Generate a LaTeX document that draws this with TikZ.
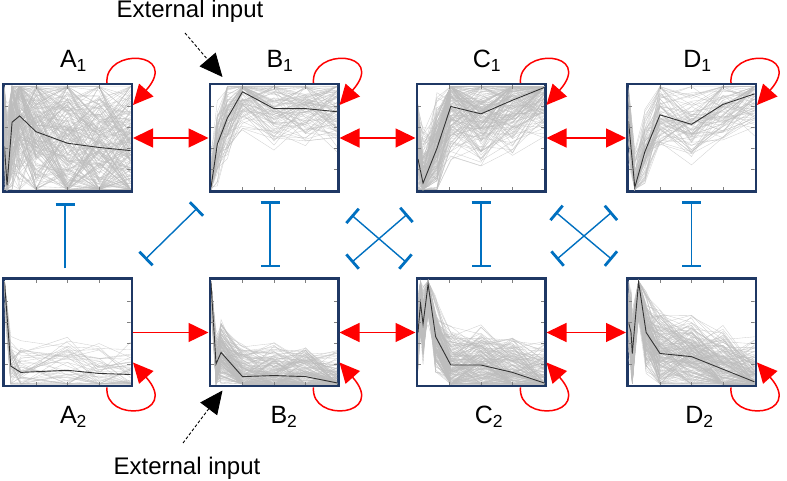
\documentclass[tikz,border=0pt]{standalone}
\usepackage{fontspec}
\setmainfont{Liberation Sans}
\usetikzlibrary{arrows.meta}
\definecolor{framenavy}{HTML}{1F3864}
\definecolor{actred}{HTML}{FF0000}
\definecolor{inhblue}{HTML}{0070C0}
\definecolor{tracegray}{HTML}{BDBDBD}
\definecolor{meangray}{HTML}{333333}
\newcommand{\nodelabel}[2]{#1\textsubscript{#2}}
\newcommand{\trajbox}[6]{%
  \begin{scope}[shift={([shift={(2.5pt,2.5pt)}]#1.south west)}, x=126pt, y=105pt]
    \clip (0,0) rectangle (1,1);
    \pgfmathsetseed{#2}
    \foreach \k in {1,...,#3} {
      \pgfmathsetmacro\trajoff{#4*rand}
      \draw[trace] (0,{min(max(#5+\trajoff+#4*rand,0.01),0.99)})
        \foreach \px/\py in {#6} { -- (\px,{min(max(\py+\trajoff+#4*rand,0.01),0.99)}) };
    }
    \draw[meanline] (0,#5) \foreach \px/\py in {#6} { -- (\px,\py) };
    \foreach \q in {0.25,0.5,0.75} {
      \draw[tick] (\q,0) -- (\q,0.03);
      \draw[tick] (\q,1) -- (\q,0.97);
    }
    \foreach \q in {0.2,0.4,0.6,0.8} {
      \draw[tick] (0,\q) -- (0.025,\q);
      \draw[tick] (1,\q) -- (0.975,\q);
    }
  \end{scope}}
\tikzset{
  panel/.style={draw=framenavy, line width=2.5pt, fill=white, minimum width=128.5pt, minimum height=107.5pt, inner sep=0pt},
  trace/.style={draw=tracegray, line width=0.35pt, opacity=0.7},
  meanline/.style={draw=meangray, line width=0.9pt},
  tick/.style={draw=gray, line width=0.4pt},
  lbl/.style={font=\fontsize{25}{30}\selectfont, inner sep=0pt, anchor=base},
  extlbl/.style={font=\fontsize{24}{28}\selectfont, inner sep=0pt, anchor=base},
  act/.style={draw=actred, line width=1.5pt, >={Triangle[length=20pt,width=19pt]}},
  inh/.style={draw=inhblue, line width=1.4pt, >={Bar[width=19pt,line width=2.8pt]}},
  ext/.style={draw=black, line width=0.9pt, dash pattern=on 3pt off 2pt, -{Triangle[length=23pt,width=21pt]}}
}

\begin{document}
\begin{tikzpicture}[x=1pt, y=1pt]
  \useasboundingbox (0,0) rectangle (787,481);

  \node[panel] (A1) at (67.5,343) {};
  \node[panel] (B1) at (274,343) {};
  \node[panel] (C1) at (481,343) {};
  \node[panel] (D1) at (691.5,343) {};
  \node[panel] (A2) at (67.5,148.5) {};
  \node[panel] (B2) at (274,148.5) {};
  \node[panel] (C2) at (481,148.5) {};
  \node[panel] (D2) at (691.5,148.5) {};

  \trajbox{A1}{11}{200}{0.42}{0.42}{0.02/0.05, 0.06/0.65, 0.12/0.71, 0.25/0.56, 0.5/0.45, 0.75/0.41, 1/0.38}
  \trajbox{B1}{12}{90}{0.22}{0.03}{0.05/0.44, 0.13/0.69, 0.25/0.94, 0.5/0.78, 0.75/0.78, 1/0.75}
  \trajbox{C1}{13}{170}{0.28}{0.3}{0.04/0.07, 0.15/0.4, 0.26/0.8, 0.5/0.73, 0.75/0.86, 1/0.98}
  \trajbox{D1}{14}{80}{0.22}{0.66}{0.05/0.03, 0.13/0.37, 0.25/0.72, 0.5/0.63, 0.75/0.82, 1/0.92}
  \trajbox{A2}{15}{50}{0.17}{0.98}{0.05/0.18, 0.13/0.12, 0.5/0.14, 0.75/0.11, 1/0.1}
  \trajbox{B2}{16}{170}{0.17}{0.97}{0.04/0.2, 0.08/0.31, 0.25/0.08, 0.5/0.09, 0.75/0.08, 1/0.02}
  \trajbox{C2}{17}{180}{0.2}{0.5}{0.02/0.78, 0.04/0.58, 0.08/0.96, 0.14/0.46, 0.26/0.19, 0.5/0.19, 0.75/0.12, 1/0.02}
  \trajbox{D2}{18}{180}{0.22}{0.6}{0.02/0.5, 0.03/0.3, 0.08/0.98, 0.14/0.5, 0.25/0.3, 0.5/0.27, 0.75/0.15, 1/0.03}

  \node[lbl] (lA1) at ([xshift=6pt,yshift=15pt]A1.north) {\nodelabel{A}{1}};
  \node[lbl] (lB1) at ([xshift=6pt,yshift=15pt]B1.north) {\nodelabel{B}{1}};
  \node[lbl] (lC1) at ([xshift=6pt,yshift=15pt]C1.north) {\nodelabel{C}{1}};
  \node[lbl] (lD1) at ([xshift=6pt,yshift=15pt]D1.north) {\nodelabel{D}{1}};
  \node[lbl] (lA2) at ([xshift=6pt,yshift=-36pt]A2.south) {\nodelabel{A}{2}};
  \node[lbl] (lB2) at ([xshift=10pt,yshift=-36pt]B2.south) {\nodelabel{B}{2}};
  \node[lbl] (lC2) at ([xshift=8pt,yshift=-36pt]C2.south) {\nodelabel{C}{2}};
  \node[lbl] (lD2) at ([xshift=8pt,yshift=-36pt]D2.south) {\nodelabel{D}{2}};

  \node[extlbl] (ext1) at (190,463) {External input};
  \node[extlbl] (ext2) at (187,6) {External input};
  \draw[ext] ([shift={(-5pt,-15pt)}]ext1.base) -- ([shift={(14pt,6pt)}]B1.north west);
  \draw[ext] ([shift={(-4pt,32pt)}]ext2.base) -- ([shift={(14pt,-3pt)}]B2.south west);

  % activation
  \draw[act,<->] (A1) -- (B1);
  \draw[act,<->] (B1) -- (C1);
  \draw[act,<->] (C1) -- (D1);
  \draw[act,->] (A2) -- (B2);
  \draw[act,<->] (B2) -- (C2);
  \draw[act,<->] (C2) -- (D2);
  \foreach \n in {A1,B1,C1,D1}
    \draw[act,->] ([xshift=-26pt]\n.north east) .. controls +(-3,36) and +(48,54) .. ([yshift=-22pt]\n.north east);
  \foreach \n in {A2,B2,C2,D2}
    \draw[act,->] ([xshift=-26pt]\n.south east) .. controls +(-3,-36) and +(48,-54) .. ([yshift=25pt]\n.south east);

  % inhibition
  \draw[inh,->] ([xshift=-2.5pt,yshift=9pt]A2.north) -- ([xshift=-2.5pt,yshift=-10pt]A1.south);
  \draw[inh,<->] ([xshift=-4pt,yshift=-8pt]B1.south) -- ([xshift=-4pt,yshift=10pt]B2.north);
  \draw[inh,<->] ([yshift=-8pt]C1.south) -- ([yshift=10pt]C2.north);
  \draw[inh,<->] ([yshift=-8pt]D1.south) -- ([yshift=10pt]D2.north);
  \draw[inh,<->] ([shift={(12pt,18pt)}]A2.north east) -- ([shift={(-11pt,-15pt)}]B1.south west);
  \draw[inh,<->] ([shift={(12pt,-22pt)}]B1.south east) -- ([shift={(-9pt,15pt)}]C2.north west);
  \draw[inh,<->] ([shift={(-8pt,-21pt)}]C1.south west) -- ([shift={(12pt,15pt)}]B2.north east);
  \draw[inh,<->] ([shift={(9pt,-19pt)}]C1.south east) -- ([shift={(-14pt,18pt)}]D2.north west);
  \draw[inh,<->] ([shift={(-14pt,-19pt)}]D1.south west) -- ([shift={(10pt,18pt)}]C2.north east);
\end{tikzpicture}
\end{document}
